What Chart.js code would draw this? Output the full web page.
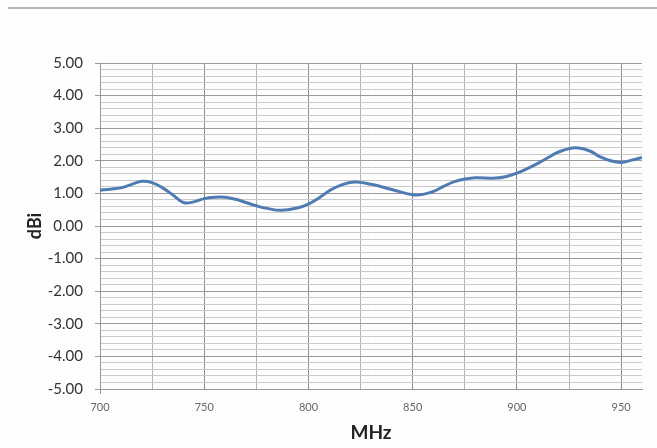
<!DOCTYPE html>
<html>
<head>
<meta charset="utf-8">
<script src="https://cdn.jsdelivr.net/npm/chart.js@4.4.1/dist/chart.umd.min.js"></script>
<style>
  html, body { margin: 0; padding: 0; background: #fdfdfd; }
  #wrap { position: relative; width: 657px; height: 448px; overflow: hidden; }
  #topline { position: absolute; left: 8px; right: 0; top: 7px; height: 2px; background: #b4b4b4; }
  #c { position: absolute; left: 0; top: 0; }
</style>
</head>
<body>
<div id="wrap">
  <div id="topline"></div>
  <canvas id="c" width="657" height="448"></canvas>
</div>
<script>
// ─── DATA ─────────────────────────────────────────────────
const freqMHz = [700, 705, 710, 715, 720, 725, 730, 735, 740, 745, 750, 755, 760, 765, 770, 775, 780, 787, 795, 800, 805, 810, 815, 822, 830, 840, 850, 855, 860, 865, 870, 875, 880, 890, 895, 900, 905, 910, 915, 920, 928, 935, 940, 945, 950, 955, 960];
const gainDbi = [1.10, 1.13, 1.17, 1.27, 1.37, 1.33, 1.17, 0.95, 0.72, 0.74, 0.84, 0.88, 0.88, 0.82, 0.72, 0.62, 0.54, 0.48, 0.56, 0.67, 0.86, 1.08, 1.24, 1.35, 1.28, 1.12, 0.96, 0.97, 1.06, 1.22, 1.36, 1.44, 1.48, 1.47, 1.52, 1.62, 1.76, 1.92, 2.10, 2.27, 2.40, 2.30, 2.12, 2.00, 1.95, 2.02, 2.10];

const yMin = -5, yMax = 5, yStep = 0.2;
const xMin = 700, xMax = 960, xStep = 25;

const FONT = "Lato, 'Open Sans', sans-serif";
const isMajorY = (v) => Math.abs(v - Math.round(v)) < 1e-6;
const isMajorX = (v) => v % 50 === 0;

new Chart(document.getElementById('c'), {
    type: 'line',
    data: {
        datasets: [{
            data: freqMHz.map((f, i) => ({ x: f, y: gainDbi[i] })),
            borderColor: '#4f7bb3',
            borderWidth: 3,
            pointRadius: 0,
            tension: 0.4,
            fill: false,
        }],
    },
    options: {
        responsive: false,
        animation: false,
        layout: { padding: { top: 63, right: 15, left: 0, bottom: 0 } },
        plugins: { legend: { display: false }, tooltip: { enabled: false } },
        scales: {
            x: {
                type: 'linear',
                min: xMin, max: xMax,
                afterBuildTicks: (s) => {
                    const t = [];
                    for (let v = xMin; v <= xMax; v += xStep) t.push({ value: v });
                    s.ticks = t;
                },
                afterFit: (s) => { s.height = 59; },
                ticks: {
                    autoSkip: false, maxRotation: 0, padding: 7,
                    color: '#666', font: { family: FONT, size: 11 },
                    callback: (v) => isMajorX(v) ? String(v) : '',
                },
                grid: {
                    color: (c) => isMajorX(c.tick.value) ? '#8c8c8c' : '#b4b4b4',
                    tickColor: (c) => c.tick.value === xMin ? '#999' : 'rgba(0,0,0,0)',
                    tickLength: 5,
                },
                border: { color: '#999' },
                title: { display: true, text: 'MHz', color: '#222', font: { family: FONT, size: 19, weight: 'bold' }, padding: { top: 0, bottom: 4 } },
            },
            y: {
                min: yMin, max: yMax,
                afterBuildTicks: (s) => {
                    const t = [];
                    for (let i = 0; i <= Math.round((yMax - yMin) / yStep); i++) t.push({ value: +(yMin + i * yStep).toFixed(2) });
                    s.ticks = t;
                },
                afterFit: (s) => { s.width = 100; },
                ticks: {
                    autoSkip: false, padding: 12,
                    color: '#333', font: { family: FONT, size: 15 },
                    callback: (v) => isMajorY(v) ? Number(v).toFixed(2) : '',
                },
                grid: {
                    color: (c) => isMajorY(c.tick.value) ? '#9a9a9a' : '#cacaca',
                    tickColor: (c) => isMajorY(c.tick.value) ? '#999' : 'rgba(0,0,0,0)',
                    tickLength: 5,
                },
                border: { color: '#999' },
                title: { display: true, text: 'dBi', color: '#222', font: { family: FONT, size: 18, weight: 'bold' }, padding: { top: 24, bottom: 0 } },
            },
        },
    },
});
</script>
</body>
</html>
